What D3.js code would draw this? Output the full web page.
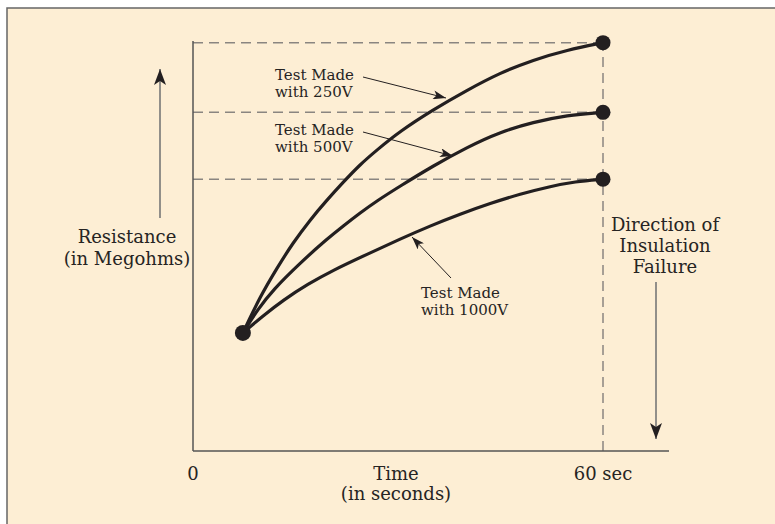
<!DOCTYPE html>
<html>
<head>
<meta charset="utf-8">
<script src="https://cdn.jsdelivr.net/npm/d3@7"></script>
<style>
  body { margin: 0; background: #fff; }
  text { font-family: "DejaVu Serif", serif; fill: #262423; }
</style>
</head>
<body>
<script>
// values: time in seconds, resistance in relative units (0-100)
const startPoint = [7.3, 28.8]
const series250 = [[7.3, 28.8], [9.8, 37.6], [12.4, 44.9], [14.6, 50.7], [17.1, 56.3], [19.6, 61.2], [22.0, 65.6], [24.4, 69.8], [26.9, 73.4], [30.3, 78.0], [35.1, 83.2], [40.1, 88.0], [44.9, 92.2], [49.8, 95.4], [54.7, 97.8], [60, 99.6]]
const series500 = [[7.3, 28.8], [9.5, 34.6], [11.7, 39.3], [15.7, 45.9], [19.6, 51.7], [22.0, 54.9], [24.4, 58.0], [26.9, 61.0], [30.3, 64.6], [35.1, 69.5], [40.1, 74.1], [44.9, 77.8], [49.8, 80.2], [54.7, 81.9], [60, 82.6]]
const series1000 = [[7.3, 28.8], [10.2, 32.9], [13.2, 36.8], [16.8, 40.7], [20.5, 44.1], [25.5, 48.0], [30.3, 51.7], [34.7, 54.9], [39.1, 57.8], [43.5, 60.4], [47.9, 62.7], [52.2, 64.5], [55.9, 65.7], [60, 66.3]]
const endValues = [99.6, 82.6, 66.3]
const xTickLabels = ["0", "60 sec"]
const xTickValues = [0, 60]

const width = 775, height = 524

const svg = d3.select('body').append('svg')
    .attr('width', width)
    .attr('height', height)

// frame
svg.append('rect')
    .attr('x', 7).attr('y', 8)
    .attr('width', width + 10).attr('height', height + 10)
    .attr('fill', '#fdeed4')
    .attr('stroke', '#666')
    .attr('stroke-width', 1.5)

const x = d3.scaleLinear().domain([0, 60]).range([193, 603])
const y = d3.scaleLinear().domain([0, 100]).range([451, 41])

const defs = svg.append('defs')
function marker(id, w, l) {
    defs.append('marker')
        .attr('id', id)
        .attr('viewBox', '0 0 ' + l + ' ' + w)
        .attr('refX', l).attr('refY', w / 2)
        .attr('markerWidth', l).attr('markerHeight', w)
        .attr('markerUnits', 'userSpaceOnUse')
        .attr('orient', 'auto')
        .append('path')
        .attr('d', 'M0,0L' + l + ',' + (w / 2) + 'L0,' + w + 'L' + (l * 0.25) + ',' + (w / 2) + 'Z')
        .attr('fill', '#231f20')
}
marker('bigHead', 12, 16)
marker('smallHead', 9, 13)

// dashed guides
const dash = svg.append('g')
    .attr('stroke', '#8a8580')
    .attr('stroke-width', 1.5)
    .attr('stroke-dasharray', '10,6')
    .attr('fill', 'none')
endValues.forEach(v => {
    dash.append('line')
        .attr('x1', x(0)).attr('x2', x(60))
        .attr('y1', y(v)).attr('y2', y(v))
})
dash.append('line')
    .attr('x1', x(60)).attr('x2', x(60))
    .attr('y1', y(100)).attr('y2', y(0))

// axes
svg.append('line')
    .attr('x1', x(0)).attr('x2', x(0))
    .attr('y1', y(100)).attr('y2', y(0))
    .attr('stroke', '#555').attr('stroke-width', 1.5)
svg.append('line')
    .attr('x1', x(0)).attr('x2', 669)
    .attr('y1', y(0)).attr('y2', y(0))
    .attr('stroke', '#555').attr('stroke-width', 1.5)

// tick labels
svg.selectAll('.tick-label')
    .data(xTickValues)
    .join('text')
    .attr('class', 'tick-label')
    .attr('x', d => x(d))
    .attr('y', 480)
    .attr('text-anchor', 'middle')
    .style('font-size', '18px')
    .text((d, i) => xTickLabels[i])

// curves
const line = d3.line()
    .x(d => x(d[0]))
    .y(d => y(d[1]))
    .curve(d3.curveBasis)

svg.selectAll('.curve')
    .data([series250, series500, series1000])
    .join('path')
    .attr('class', 'curve')
    .attr('d', line)
    .attr('fill', 'none')
    .attr('stroke', '#231f20')
    .attr('stroke-width', 3.2)

// dots
svg.selectAll('.end-dot')
    .data(endValues)
    .join('circle')
    .attr('class', 'end-dot')
    .attr('cx', x(60))
    .attr('cy', d => y(d))
    .attr('r', 7.5)
    .attr('fill', '#231f20')
svg.append('circle')
    .attr('cx', x(startPoint[0]))
    .attr('cy', y(startPoint[1]))
    .attr('r', 8)
    .attr('fill', '#231f20')

// big arrows
svg.append('line')
    .attr('x1', 160).attr('x2', 160)
    .attr('y1', 218).attr('y2', 69)
    .attr('stroke', '#777').attr('stroke-width', 1.6)
    .attr('marker-end', 'url(#bigHead)')
svg.append('line')
    .attr('x1', 656).attr('x2', 656)
    .attr('y1', 282).attr('y2', 439)
    .attr('stroke', '#777').attr('stroke-width', 1.6)
    .attr('marker-end', 'url(#bigHead)')

// labels
function multiline(lines, cx, y0, dy, size, anchor) {
    const t = svg.append('text')
        .attr('text-anchor', anchor)
        .style('font-size', size + 'px')
    lines.forEach((s, i) => {
        t.append('tspan').attr('x', cx).attr('y', y0 + i * dy).text(s)
    })
}
multiline(['Resistance', '(in Megohms)'], 127, 243, 22, 18, 'middle')
multiline(['Time', '(in seconds)'], 396, 480, 20, 18, 'middle')
multiline(['Direction of', 'Insulation', 'Failure'], 665, 231, 21, 18, 'middle')

multiline(['Test Made', 'with 250V'], 275, 80, 17, 15, 'start')
multiline(['Test Made', 'with 500V'], 275, 135, 17, 15, 'start')
multiline(['Test Made', 'with 1000V'], 421, 298, 17, 15, 'start')

// leader arrows
const leaders = svg.append('g')
    .attr('stroke', '#231f20').attr('stroke-width', 1)
leaders.append('line')
    .attr('x1', 363).attr('y1', 77).attr('x2', 446).attr('y2', 98)
    .attr('marker-end', 'url(#smallHead)')
leaders.append('line')
    .attr('x1', 363).attr('y1', 132).attr('x2', 453).attr('y2', 156)
    .attr('marker-end', 'url(#smallHead)')
leaders.append('line')
    .attr('x1', 451).attr('y1', 278).attr('x2', 412).attr('y2', 237)
    .attr('marker-end', 'url(#smallHead)')
</script>
</body>
</html>
